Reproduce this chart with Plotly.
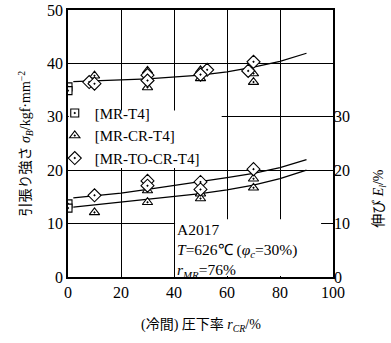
import plotly.graph_objects as go

# ---- data ----
x_ticks = [0, 20, 40, 60, 80, 100]
y_ticks_left = [0, 10, 20, 30, 40, 50]
y_ticks_right = [0, 10, 20, 30]

# tensile strength (kgf/mm^2)
mr_t4_ts_x = [0, 0]
mr_t4_ts_y = [35.6, 34.9]
mr_cr_t4_ts_x = [10, 10, 30, 30, 50, 50, 70, 70]
mr_cr_t4_ts_y = [37.7, 36.5, 38.6, 35.5, 38.7, 37.2, 38.1, 36.5]
mr_to_cr_t4_ts_x = [8, 10, 30, 30, 52.5, 50, 70, 68]
mr_to_cr_t4_ts_y = [36.5, 36.2, 37.8, 36.8, 38.8, 37.9, 40.3, 38.6]

# elongation (%)
mr_t4_el_x = [0, 0]
mr_t4_el_y = [13.7, 12.9]
mr_cr_t4_el_x = [10, 30, 30, 50, 50, 70, 70]
mr_cr_t4_el_y = [12.1, 16.2, 14.0, 15.6, 14.7, 18.4, 16.7]
mr_to_cr_t4_el_x = [10, 30, 30, 50, 50, 70]
mr_to_cr_t4_el_y = [15.3, 18.0, 17.1, 17.8, 16.4, 20.2]

# fitted curves
curve_x = [2, 10, 20, 30, 40, 50, 60, 70, 80, 90]
ts_curve_y = [36.6, 36.7, 36.9, 37.1, 37.4, 37.8, 38.4, 39.3, 40.4, 41.9]
el_to_curve_y = [14.8, 15.2, 15.7, 16.4, 17.1, 17.8, 18.6, 19.4, 20.5, 22.0]
el_cr_curve_y = [13.1, 13.5, 14.0, 14.5, 15.0, 15.6, 16.3, 17.2, 18.4, 20.0]

FONT = "Liberation Serif, Times New Roman, serif"
CJK = "Liberation Serif, Times New Roman, Noto Sans CJK JP"
fig = go.Figure()

line_style = dict(color="black", width=1.3)
fig.add_trace(go.Scatter(x=curve_x, y=ts_curve_y, mode="lines", line=line_style, showlegend=False))
fig.add_trace(go.Scatter(x=curve_x, y=el_to_curve_y, mode="lines", line=line_style, showlegend=False, yaxis="y2"))
fig.add_trace(go.Scatter(x=curve_x, y=el_cr_curve_y, mode="lines", line=line_style, showlegend=False, yaxis="y2"))

def mk(symbol, size):
    return dict(symbol=symbol, size=size, color="white", line=dict(color="black", width=1.1))

series = [
    ("[MR-T4]", "square-dot", 8, mr_t4_ts_x, mr_t4_ts_y, mr_t4_el_x, mr_t4_el_y),
    ("[MR-CR-T4]", "triangle-up-dot", 9, mr_cr_t4_ts_x, mr_cr_t4_ts_y, mr_cr_t4_el_x, mr_cr_t4_el_y),
    ("[MR-TO-CR-T4]", "diamond-dot", 10, mr_to_cr_t4_ts_x, mr_to_cr_t4_ts_y, mr_to_cr_t4_el_x, mr_to_cr_t4_el_y),
]
for name, sym, sz, tx, ty, ex, ey in series:
    fig.add_trace(go.Scatter(x=tx, y=ty, mode="markers", marker=mk(sym, sz), name=name,
                             showlegend=True))
    fig.add_trace(go.Scatter(x=ex, y=ey, mode="markers", marker=mk(sym, sz), name=name,
                             showlegend=False, yaxis="y2"))

# white boxes behind legend and note (cover gridlines)
fig.add_shape(type="rect", xref="x", yref="y", x0=0.3, x1=58, y0=20.4, y1=31.2,
              fillcolor="white", line=dict(width=0), layer="between")
fig.add_shape(type="rect", xref="x", yref="y", x0=40.4, x1=95.5, y0=0.2, y1=10.8,
              fillcolor="white", line=dict(width=0), layer="between")

fig.add_annotation(xref="x", yref="y", x=40.4, y=10.9, xanchor="left", yanchor="top",
                   align="left", showarrow=False,
                   text="A2017<br><i>T</i>=626℃ (<i>φ</i><sub><i>c</i></sub>=30%)<br><i>r</i><sub><i>MR</i></sub>=76%",
                   font=dict(family=FONT, size=15.5, color="black"))

# axis titles
fig.add_annotation(xref="paper", yref="paper", x=0.5, y=-0.18, xanchor="center", yanchor="middle",
                   showarrow=False,
                   text="(冷間) 圧下率 <i>r</i><sub><i>CR</i></sub>/%",
                   font=dict(family=CJK, size=14, color="black"))
fig.add_annotation(xref="paper", yref="paper", x=-0.162, y=0.5, xanchor="center", yanchor="middle",
                   showarrow=False, textangle=-90,
                   text="引張り強さ <i>σ</i><sub><i>B</i></sub>/kgf·mm<sup>−2</sup>",
                   font=dict(family=CJK, size=14, color="black"))
fig.add_annotation(xref="paper", yref="paper", x=1.177, y=0.296, xanchor="center", yanchor="middle",
                   showarrow=False, textangle=-90,
                   text="伸び <i>E</i><sub><i>l</i></sub>/%",
                   font=dict(family=CJK, size=14, color="black"))

axis_common = dict(showline=True, linecolor="black", linewidth=1.6, mirror=True,
                   showgrid=True, gridcolor="black", gridwidth=1, zeroline=False,
                   ticks="", automargin=False,
                   tickfont=dict(family=FONT, size=16, color="black"))

fig.update_layout(
    width=391, height=343,
    margin=dict(l=68, r=58, t=10, b=66, autoexpand=False),
    paper_bgcolor="white", plot_bgcolor="white",
    font=dict(family=FONT, color="black"),
    xaxis=dict(range=[0, 100], tickvals=x_ticks, **axis_common),
    yaxis=dict(range=[0, 50], tickvals=y_ticks_left, **axis_common),
    yaxis2=dict(range=[0, 50], tickvals=y_ticks_right, overlaying="y", side="right",
                showline=False, showgrid=False, zeroline=False, ticks="", automargin=False,
                tickfont=dict(family=FONT, size=16, color="black")),
    legend=dict(x=-0.05, y=0.675, xanchor="left", yanchor="top", bgcolor="rgba(0,0,0,0)",
                font=dict(family=FONT, size=15, color="black"), tracegroupgap=0,
                itemwidth=30),
    showlegend=True,
)

fig.write_html("out.html", config={"displayModeBar": False},
               post_script="document.body.style.margin='0';")
